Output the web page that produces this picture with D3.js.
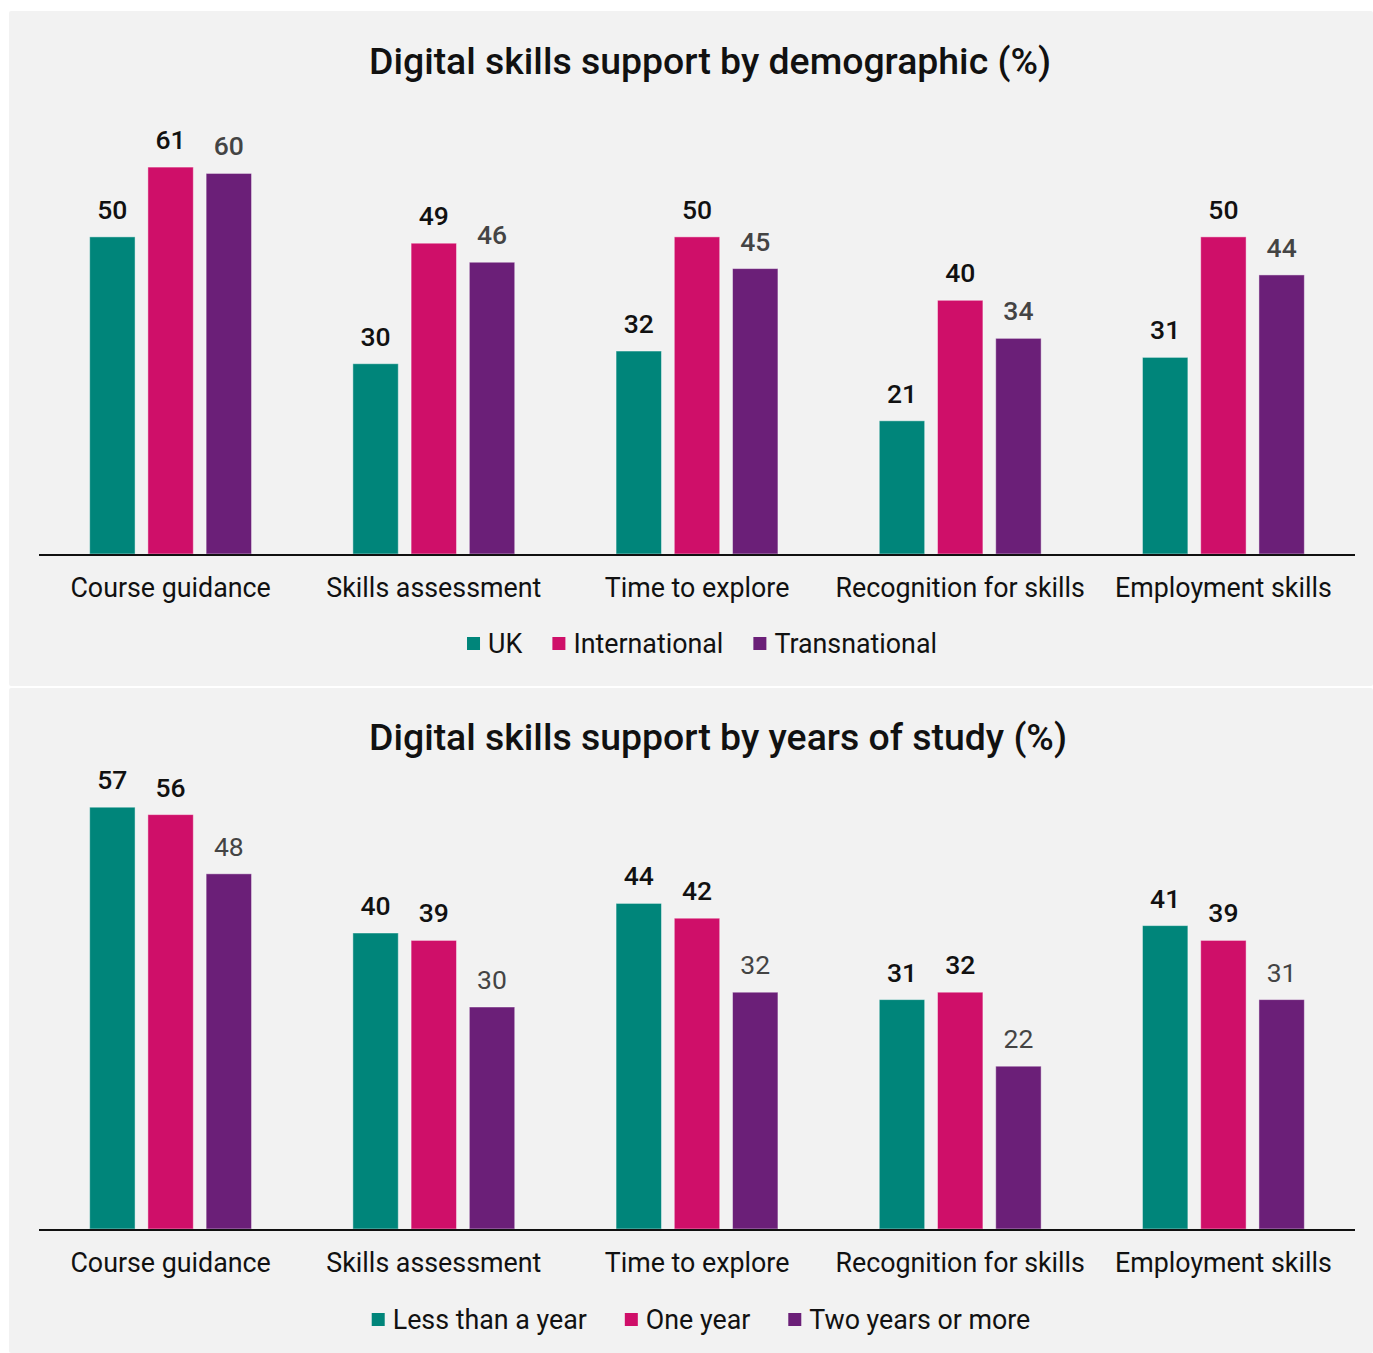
<!DOCTYPE html>
<html lang="en">
<head>
    <meta charset="UTF-8">
    <title>Digital skills support</title>
    <script src="https://d3js.org/d3.v7.min.js"></script>
    <style>
        body, html {
            margin: 0;
            padding: 0;
            background: #ffffff;
            overflow: hidden;
        }
        svg {
            display: block;
            font-family: Roboto, "Noto Sans", sans-serif;
        }
        .cat-label {
            font-size: 26.8px;
            fill: #111;
            text-anchor: middle;
        }
        .legend-text {
            font-size: 26.8px;
            fill: #111;
        }
        .title {
            font-size: 37.4px;
            font-weight: 500;
            fill: #111;
        }
    </style>
</head>
<body>
    <svg width="1373" height="1353" id="chart"></svg>

    <script>
        const categories = ["Course guidance", "Skills assessment", "Time to explore", "Recognition for skills", "Employment skills"];

        // chart 1: by demographic
        const demoSeries = ["UK", "International", "Transnational"];
        const ukValues = [50, 30, 32, 21, 31];
        const internationalValues = [61, 49, 50, 40, 50];
        const transnationalValues = [60, 46, 45, 34, 44];

        // chart 2: by years of study
        const yearSeries = ["Less than a year", "One year", "Two years or more"];
        const lessThanYearValues = [57, 40, 44, 31, 41];
        const oneYearValues = [56, 39, 42, 32, 39];
        const twoYearsValues = [48, 30, 32, 22, 31];

        const colors = ["#00857a", "#cf0f69", "#6b1f78"];

        const svg = d3.select("#chart");

        function drawPanel(opts) {
            const g = svg.append("g").attr("transform", `translate(0, ${opts.top})`);

            g.append("rect")
                .attr("x", 9)
                .attr("y", 0)
                .attr("width", 1364)
                .attr("height", opts.height)
                .attr("rx", 2)
                .attr("fill", "#f2f2f2");

            g.append("text")
                .attr("class", "title")
                .attr("x", 369)
                .attr("y", opts.titleY)
                .text(opts.title);

            const x0 = d3.scaleBand()
                .domain(categories)
                .range([39, 1355])
                .padding(0);

            const x1 = d3.scaleBand()
                .domain(opts.series)
                .range([0, x0.bandwidth()])
                .paddingInner(0.22)
                .paddingOuter(0.87);

            const y = d3.scaleLinear()
                .domain([0, opts.yMax])
                .range([opts.baseline, opts.baseline - 444]);

            const rows = categories.map((c, i) => ({
                cat: c,
                vals: opts.series.map((s, j) => ({ key: s, j: j, v: opts.values[j][i] }))
            }));

            const groups = g.selectAll(".grp")
                .data(rows)
                .enter()
                .append("g")
                .attr("class", "grp")
                .attr("transform", d => `translate(${x0(d.cat)}, 0)`);

            groups.selectAll("rect")
                .data(d => d.vals)
                .enter()
                .append("rect")
                .attr("x", d => x1(d.key))
                .attr("y", d => y(d.v))
                .attr("width", x1.bandwidth())
                .attr("height", d => y(0) - y(d.v))
                .attr("fill", d => colors[d.j])
                .attr("stroke", "rgba(255,255,255,0.45)")
                .attr("stroke-width", 1);

            groups.selectAll(".val")
                .data(d => d.vals)
                .enter()
                .append("text")
                .attr("class", "val")
                .attr("x", d => x1(d.key) + x1.bandwidth() / 2)
                .attr("y", d => y(d.v) - 18)
                .attr("text-anchor", "middle")
                .style("font-size", "26.5px")
                .style("font-weight", d => (d.j < 2 || opts.boldThird) ? 500 : 400)
                .attr("fill", d => d.j < 2 ? "#111" : "#444")
                .text(d => d.v);

            // baseline axis
            g.append("line")
                .attr("x1", 39)
                .attr("x2", 1355)
                .attr("y1", y(0) + 1)
                .attr("y2", y(0) + 1)
                .attr("stroke", "#111")
                .attr("stroke-width", 2);

            g.selectAll(".cat-label")
                .data(categories)
                .enter()
                .append("text")
                .attr("class", "cat-label")
                .attr("x", d => x0(d) + x0.bandwidth() / 2)
                .attr("y", opts.baseline + 43)
                .text(d => d);

            // legend, centred
            const legend = g.append("g").attr("transform", `translate(0, ${opts.legendY})`);
            const items = legend.selectAll(".item")
                .data(opts.series)
                .enter()
                .append("g")
                .attr("class", "item");

            items.append("rect")
                .attr("x", 0)
                .attr("y", -7)
                .attr("width", 13)
                .attr("height", 13)
                .attr("fill", (d, i) => colors[i]);

            items.append("text")
                .attr("class", "legend-text")
                .attr("x", 21)
                .attr("y", 9)
                .text(d => d);

            let pos = 0;
            const offsets = [];
            items.each(function () {
                offsets.push(pos);
                pos += this.getBBox().width + opts.legendGap;
            });
            const total = pos - opts.legendGap;
            const start = opts.legendCenter - total / 2;
            items.attr("transform", (d, i) => `translate(${start + offsets[i]}, 0)`);
        }

        drawPanel({
            top: 11,
            height: 675,
            title: "Digital skills support by demographic (%)",
            titleY: 63,
            series: demoSeries,
            values: [ukValues, internationalValues, transnationalValues],
            yMax: 70,
            baseline: 543,
            legendY: 633,
            legendCenter: 702,
            legendGap: 30,
            boldThird: true
        });

        drawPanel({
            top: 688,
            height: 665,
            title: "Digital skills support by years of study (%)",
            titleY: 62,
            series: yearSeries,
            values: [lessThanYearValues, oneYearValues, twoYearsValues],
            yMax: 60,
            baseline: 541,
            legendY: 632,
            legendCenter: 701,
            legendGap: 38,
            boldThird: false
        });
    </script>
</body>
</html>
